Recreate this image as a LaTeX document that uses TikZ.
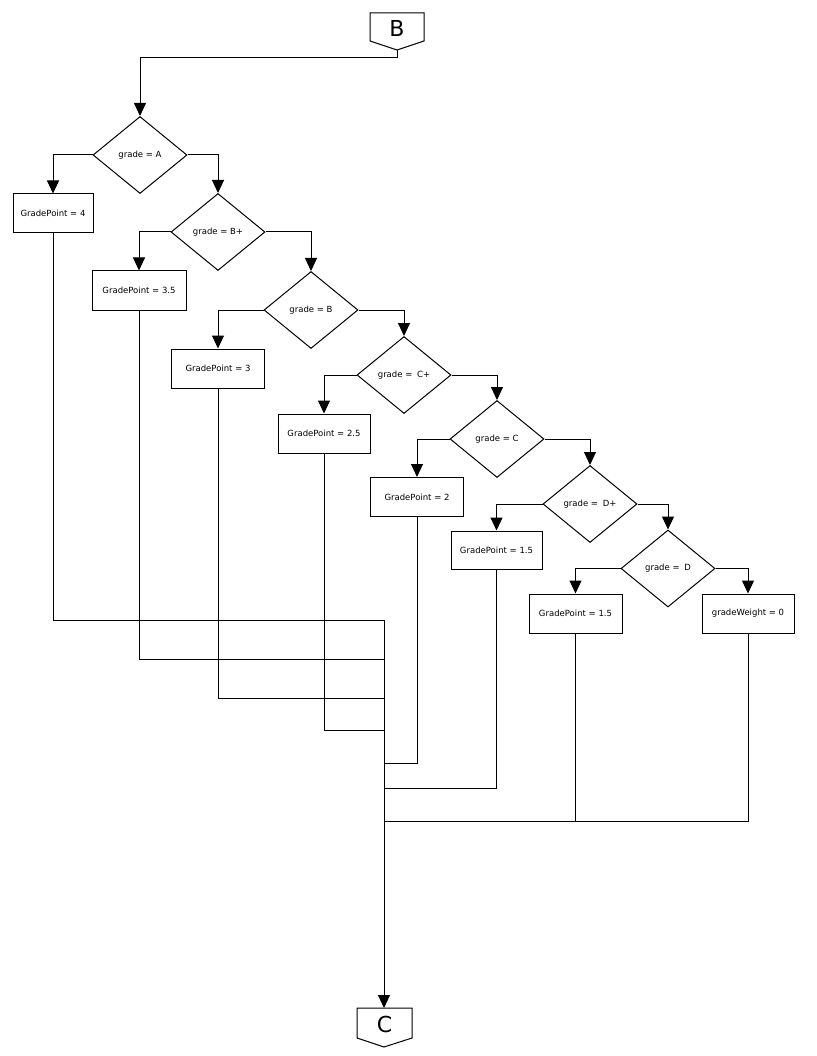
\documentclass[tikz,border=0pt]{standalone}
\usepackage{fontspec}
\setmainfont{DejaVu Sans}
\usetikzlibrary{shapes.geometric,arrows.meta}
\tikzset{
  lbl/.style={font=\fontsize{8.5}{10}\selectfont},
  dia/.style={lbl,shape=diamond,draw,line width=1pt,minimum width=94pt,minimum height=77pt,inner sep=0pt},
  gbox/.style={lbl,shape=rectangle,draw,line width=1pt,minimum height=39pt,inner sep=0pt},
  conntext/.style={font=\fontsize{22}{26}\selectfont,inner sep=0pt},
  connshape/.style={draw,line width=1pt},
  flow/.style={line width=1pt},
  arr/.style={flow,-{Triangle[width=12pt,length=13pt]}}
}
\begin{document}
\begin{tikzpicture}[x=1pt,y=-1pt]
\useasboundingbox (0,0) rectangle (816,1056);
% top connector B
\draw[connshape] (370,13) -- (424,13) -- (424,41) -- (397,50) -- (370,41) -- cycle;
\node[conntext] (B) at (397,28) {B};
\coordinate (Bpt) at (397,50);
\coordinate (Bturn) at (397,58);
% diamonds
\node[dia] (dA)  at (140,155)   {grade = A};
\node[dia] (dBp) at (218,232)   {grade = B+};
\node[dia] (dB)  at (311,310)   {grade = B};
\node[dia] (dCp) at (404,375)   {grade =\hspace{2pt} C+};
\node[dia] (dC)  at (497,439)   {grade = C};
\node[dia] (dDp) at (590,504)   {grade =\hspace{2pt} D+};
\node[dia] (dD)  at (668,568.5) {grade =\hspace{2pt} D};
% boxes
\node[gbox,minimum width=80pt] (b4)   at (53,213.5)  {GradePoint = 4};
\node[gbox,minimum width=94pt] (b35)  at (139,290.5) {GradePoint = 3.5};
\node[gbox,minimum width=93pt] (b3)   at (218,368.5) {GradePoint = 3};
\node[gbox,minimum width=92pt] (b25)  at (324,433.5) {GradePoint = 2.5};
\node[gbox,minimum width=93pt] (b2)   at (417,497)   {GradePoint = 2};
\node[gbox,minimum width=91pt,minimum height=38pt] (b15a) at (496.5,550) {GradePoint = 1.5};
\node[gbox,minimum width=93pt] (b15b) at (575.5,613.5) {GradePoint = 1.5};
\node[gbox,minimum width=92pt] (bgw)  at (748,613.5) {gradeWeight = 0};
% bottom connector C
\draw[connshape] (357,1008) -- (412,1008) -- (412,1038) -- (384,1047) -- (357,1038) -- cycle;
\node[conntext] (C) at (384.5,1024) {C};
\coordinate (Ctop) at (384,1008);
% junctions
\coordinate (j1) at (384,620);
\coordinate (j2) at (384,659);
\coordinate (j3) at (384,698);
\coordinate (j4) at (384,730);
\coordinate (j5) at (384,763);
\coordinate (j6) at (384,788);
\coordinate (j7) at (384,821);
% connectors
\draw[arr] (Bpt) -- (Bturn) -| (dA.north);
\draw[arr] (dA.west) -| (b4.north);
\draw[arr] (dA.east) -| (dBp.north);
\draw[arr] (dBp.west) -| (b35.north);
\draw[arr] (dBp.east) -| (dB.north);
\draw[arr] (dB.west) -| (b3.north);
\draw[arr] (dB.east) -| (dCp.north);
\draw[arr] (dCp.west) -| (b25.north);
\draw[arr] (dCp.east) -| (dC.north);
\draw[arr] (dC.west) -| (b2.north);
\draw[arr] (dC.east) -| (dDp.north);
\draw[arr] (dDp.west) -| (b15a.north);
\draw[arr] (dDp.east) -| (dD.north);
\draw[arr] (dD.west) -| (b15b.north);
\draw[arr] (dD.east) -| (bgw.north);
% merge lines
\draw[flow] (b4.south) |- (j1);
\draw[flow] (b35.south) |- (j2);
\draw[flow] (b3.south) |- (j3);
\draw[flow] (b25.south) |- (j4);
\draw[flow] (b2.south) |- (j5);
\draw[flow] (b15a.south) |- (j6);
\draw[flow] (bgw.south) |- (j7);
\draw[flow] (b15b.south) -- (b15b.south |- j7);
\draw[arr] (j1) -- (Ctop);
\end{tikzpicture}
\end{document}
